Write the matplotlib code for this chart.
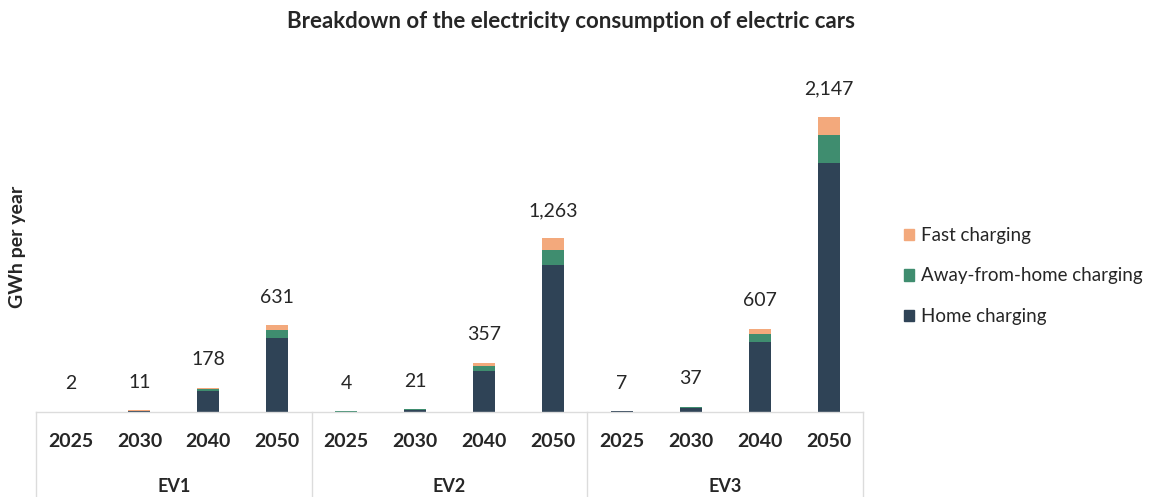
import matplotlib.pyplot as plt
import numpy as np
from matplotlib.patches import Patch

# Data (GWh per year)
groups = ["EV1", "EV2", "EV3"]
years = ["2025", "2030", "2040", "2050"]
totals = [2, 11, 178, 631, 4, 21, 357, 1263, 7, 37, 607, 2147]
home = [2, 9, 150, 537, 3, 18, 300, 1067, 6, 31, 510, 1812]
away = [0, 1, 17, 58, 1, 2, 34, 109, 1, 4, 58, 204]
fast = [0, 1, 11, 36, 0, 1, 23, 87, 0, 2, 39, 131]

c_home = "#2f4356"
c_away = "#3f8d6f"
c_fast = "#f3a97c"
txt_c = "#262626"

plt.rcParams['font.family'] = ['Lato', 'DejaVu Sans']

W, H = 1161, 497
fig = plt.figure(figsize=(W / 100, H / 100), dpi=100)
base_px = 412
top_px = 60
ax = fig.add_axes([36 / W, (H - base_px) / H, (863 - 36) / W, (base_px - top_px) / H])

x = np.arange(len(totals))
home = np.array(home)
away = np.array(away)
fast = np.array(fast)
bw = 0.32
ax.bar(x, home, bw, color=c_home)
ax.bar(x, away, bw, bottom=home, color=c_away)
ax.bar(x, fast, bw, bottom=home + away, color=c_fast)

ymax = (base_px - top_px) / 0.1374
ax.set_xlim(-0.5, len(totals) - 0.5)
ax.set_ylim(0, ymax)

# data labels above bars
for xi, t in zip(x, totals):
    ax.annotate(f"{t:,}", (xi, t), xytext=(0, 28), textcoords="offset pixels",
                ha="center", va="center", fontsize=14, color=txt_c)

for s in ax.spines.values():
    s.set_visible(False)
ax.set_yticks([])
ax.set_xticks(x)
ax.set_xticklabels(years * len(groups), fontsize=14, fontweight="bold", color=txt_c)
ax.tick_params(axis="x", length=0, pad=15)

# category table lines
line_c = "#dcdcdc"
ax.plot([-0.5, len(totals) - 0.5], [0, 0], color=line_c, lw=1, clip_on=False)
trans = ax.get_xaxis_transform()
bot = -(H - base_px) / (base_px - top_px)
for g in range(len(groups) + 1):
    xs = g * 4 - 0.5
    ax.plot([xs, xs], [0, bot], color=line_c, lw=1, transform=trans, clip_on=False)
for g, name in enumerate(groups):
    ax.text(g * 4 + 1.5, -75 / (base_px - top_px), name, transform=trans,
            ha="center", va="center", fontsize=13, fontweight="bold", color=txt_c)

fig.text(0.492, 1 - 22 / H, "Breakdown of the electricity consumption of electric cars",
         ha="center", va="center", fontsize=16, fontweight="bold", color=txt_c)
fig.text(18 / W, 1 - 247 / H, "GWh per year", rotation=90, ha="center", va="center",
         fontsize=14, fontweight="bold", color=txt_c)

handles = [Patch(color=c_fast, label="Fast charging"),
           Patch(color=c_away, label="Away-from-home charging"),
           Patch(color=c_home, label="Home charging")]
fig.legend(handles=handles, loc="center left", bbox_to_anchor=(904 / W, 1 - 276 / H),
           borderaxespad=0, borderpad=0, frameon=False, fontsize=13.5,
           handlelength=0.55, handleheight=0.55, handletextpad=0.35,
           labelspacing=1.25, labelcolor=txt_c)

fig.savefig("out.png", dpi=100, facecolor="white")
